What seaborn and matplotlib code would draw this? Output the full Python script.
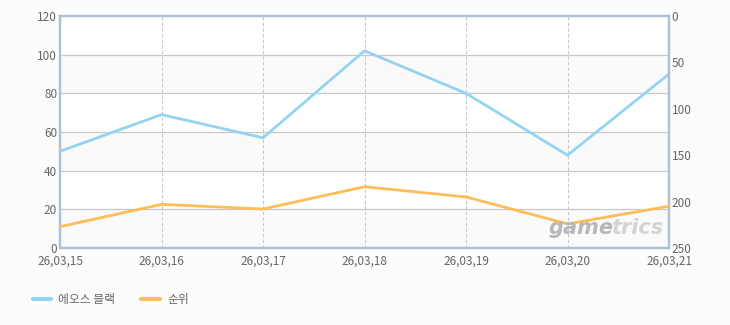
import matplotlib
matplotlib.use("Agg")
import matplotlib.pyplot as plt
import seaborn as sns
import numpy as np
import pandas as pd
from matplotlib.lines import Line2D

sns.set_style("white")
plt.rcParams['font.family'] = ['Noto Sans CJK KR', 'DejaVu Sans']

dates = ["26,03,15", "26,03,16", "26,03,17", "26,03,18", "26,03,19", "26,03,20", "26,03,21"]
users = [50, 69, 57, 102, 80, 48, 90]
rank = [227, 203, 208, 184, 195, 224, 205]
left_ticks = [0, 20, 40, 60, 80, 100, 120]
right_ticks = [0, 50, 100, 150, 200, 250]
series_names = ["에오스 블랙", "순위"]

blue = "#94d3f2"
orange = "#ffbd59"
spine_c = "#adc0d4"
grid_c = "#c8c8c8"
text_c = "#666666"

df = pd.DataFrame({"idx": np.arange(len(dates)), "users": users, "rank": rank})

fig = plt.figure(figsize=(7.3, 3.25), dpi=100, facecolor="#fcfcfc")
ax = fig.add_axes([60/730, 1-248/325, (669-60)/730, (248-16)/325])
ax.set_facecolor("white")

# alternating bands
for i in range(len(left_ticks)-1):
    if i % 2 == 0:
        ax.axhspan(left_ticks[i], left_ticks[i+1], color="#fafafa", zorder=0, lw=0)

for t in left_ticks[1:-1]:
    ax.axhline(t, color=grid_c, lw=0.9, zorder=1)
for i in range(1, len(dates)-1):
    ax.axvline(i, color=grid_c, lw=0.8, ls=(0, (3, 2)), zorder=1)

sns.lineplot(data=df, x="idx", y="users", ax=ax, color=blue, lw=2, zorder=3)
ax.set_ylim(0, 120)
ax.set_xlim(0, len(dates)-1)
ax.set_yticks(left_ticks)
ax.set_xticks(np.arange(len(dates)))
ax.set_xticklabels(dates)
ax.set_xlabel("")
ax.set_ylabel("")

ax2 = ax.twinx()
sns.lineplot(data=df, x="idx", y="rank", ax=ax2, color=orange, lw=2, zorder=3)
ax2.set_ylim(250, 0)
ax2.set_yticks(right_ticks)
ax2.set_ylabel("")
ax2.set_xlim(0, len(dates)-1)

for a in (ax, ax2):
    for s in a.spines.values():
        s.set_color(spine_c)
        s.set_linewidth(1.6)
    a.tick_params(colors=text_c, labelsize=8.5, length=0, pad=2)
    for lab in a.get_xticklabels() + a.get_yticklabels():
        lab.set_color(text_c)
ax.tick_params(axis='x', pad=5)

# watermark
fig.text(0.752, 0.30, "game", ha="left", va="center", fontsize=15, fontweight="bold",
         style="italic", color="#b8b8b8", family="DejaVu Sans", zorder=2)
fig.text(0.837, 0.30, "trics", ha="left", va="center", fontsize=15, fontweight="bold",
         style="italic", color="#d4d4d4", family="DejaVu Sans", zorder=2)

handles = [Line2D([0], [0], color=blue, lw=3), Line2D([0], [0], color=orange, lw=3)]
fig.legend(handles, series_names, loc="center left", bbox_to_anchor=(0.03, 0.078),
           ncol=2, frameon=False, handlelength=1.6, columnspacing=2.2,
           handletextpad=0.6, prop={"size": 8.5}, labelcolor=text_c)

fig.savefig("out.png", dpi=100, facecolor=fig.get_facecolor())
